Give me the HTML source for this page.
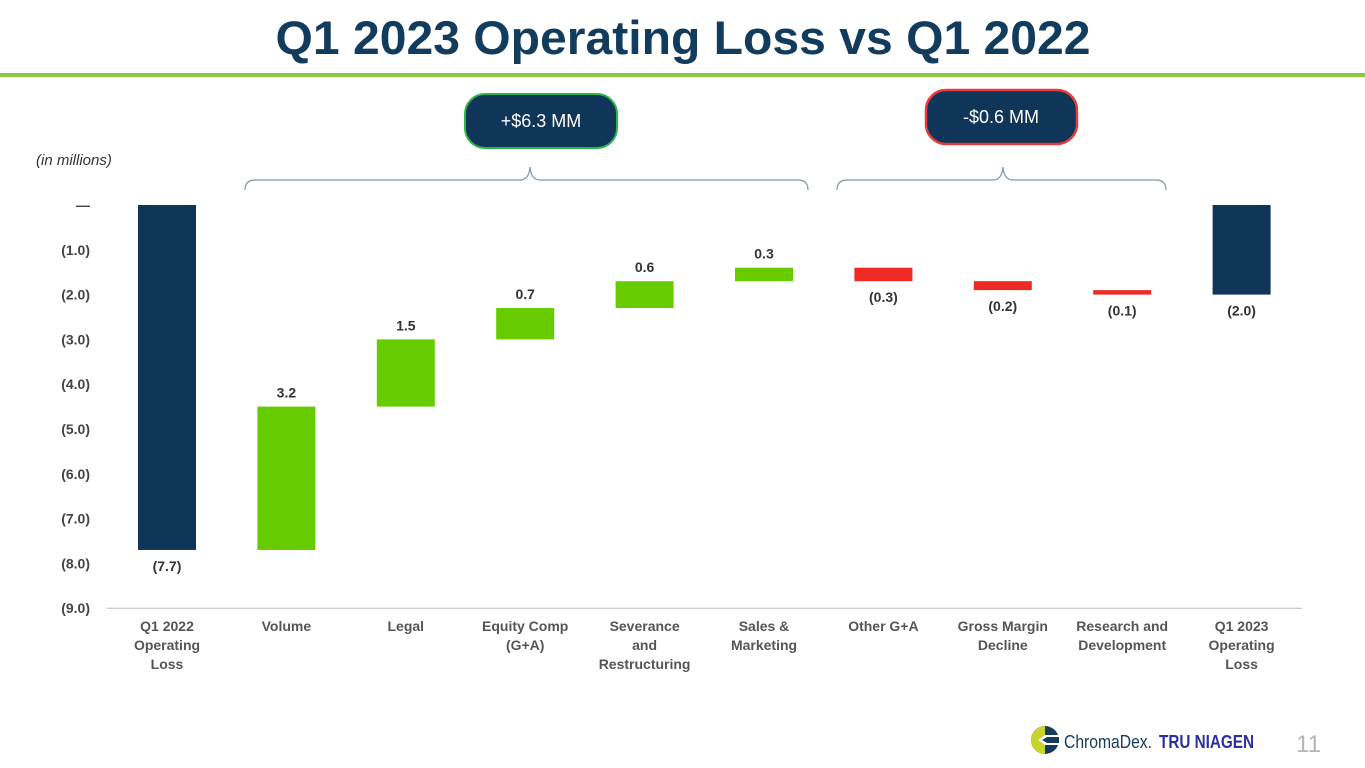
<!DOCTYPE html>
<html><head><meta charset="utf-8"><style>
body{margin:0;width:1365px;height:768px;background:#fff;overflow:hidden;font-family:"Liberation Sans",sans-serif;}
svg{position:absolute;left:0;top:0}
</style></head><body>
<svg id="c" width="1365" height="768">
<text x="683" y="54" text-anchor="middle" font-size="47" font-weight="bold" fill="#123c5e" textLength="815" lengthAdjust="spacingAndGlyphs">Q1 2023 Operating Loss vs Q1 2022</text>
<rect x="0" y="73" width="1365" height="4" fill="#8dc63f"/>
<text x="36" y="165" font-size="15" font-style="italic" fill="#333">(in millions)</text>
<g>
<rect x="465" y="94" width="152" height="54" rx="20" fill="#0f3658" stroke="#2fb34a" stroke-width="2"/>
<text x="541" y="127" text-anchor="middle" font-size="18" fill="#fff">+$6.3 MM</text></g>
<g>
<rect x="926" y="90" width="151" height="54" rx="20" fill="#0f3658" stroke="#e83a3a" stroke-width="2.5"/>
<text x="1001" y="123" text-anchor="middle" font-size="18" fill="#fff">-$0.6 MM</text></g>
<path d="M245 190 Q245 180 255 180 L520 180 Q529 180 530 167 Q531 180 540 180 L798 180 Q808 180 808 190" fill="none" stroke="#7f96aa" stroke-width="1.2"/>
<path d="M837 190 Q837 180 847 180 L993 180 Q1002 180 1003 167 Q1004 180 1013 180 L1156 180 Q1166 180 1166 190" fill="none" stroke="#7f96aa" stroke-width="1.2"/>
<g id="plot"></g>
<g>
<circle cx="1045" cy="740" r="14" fill="#173a5a"/>
<path d="M1031 740 A14 14 0 0 0 1045 754 L1045 745 L1038 740 Z" fill="#c8d42c"/>
<path d="M1031 740 A14 14 0 0 1 1045 726 L1045 735 L1038 740 Z" fill="#c8d42c"/>
<path d="M1038 740 L1045 735 L1059 735 L1059 745 L1045 745 Z" fill="#fff"/>
<path d="M1042 740 L1047 737 L1059 737 L1059 743 L1047 743 Z" fill="#173a5a"/>
<text x="1064" y="748" font-size="18" fill="#173a5a" textLength="88" lengthAdjust="spacingAndGlyphs">ChromaDex.</text>
<text x="1159" y="748" font-size="18" font-weight="bold" fill="#2b2fa0" textLength="95" lengthAdjust="spacingAndGlyphs">TRU NIAGEN</text>
<text x="1296" y="752" font-size="24" fill="#b5b5b5">11</text>
</g>
</svg>
<script>
const categories=["Q1 2022|Operating|Loss","Volume","Legal","Equity Comp|(G+A)","Severance|and|Restructuring","Sales &|Marketing","Other G+A","Gross Margin|Decline","Research and|Development","Q1 2023|Operating|Loss"];
const values=[-7.7,3.2,1.5,0.7,0.6,0.3,-0.3,-0.2,-0.1,-2.0];
const labels=["(7.7)","3.2","1.5","0.7","0.6","0.3","(0.3)","(0.2)","(0.1)","(2.0)"];
const kinds=["total","delta","delta","delta","delta","delta","delta","delta","delta","total"];
const ticks=[0,-1,-2,-3,-4,-5,-6,-7,-8,-9];
const tickLabels=["—","(1.0)","(2.0)","(3.0)","(4.0)","(5.0)","(6.0)","(7.0)","(8.0)","(9.0)"];
const NS="http://www.w3.org/2000/svg";
const g=document.getElementById('plot');
const y=v=>205-v*44.8;
const x=i=>167+i*119.4;
function el(t,a,txt){const e=document.createElementNS(NS,t);for(const k in a)e.setAttribute(k,a[k]);if(txt!==undefined)e.textContent=txt;g.appendChild(e);return e;}
const ax=el('line',{x1:107,x2:1302,y1:y(-9),y2:y(-9),stroke:'#bbb','stroke-width':1});


ticks.forEach((t,i)=>{const e=el('text',{x:90,y:y(t)+5,'text-anchor':'end','font-size':14,'font-weight':'bold',fill:'#444'},tickLabels[i]);

});
let cum=0;
values.forEach((v,i)=>{
 let top,bot,color;
 if(kinds[i]==='total'){top=Math.max(0,v);bot=Math.min(0,v);color='#0f3658';cum=v;}
 else{const n=cum+v;top=Math.max(cum,n);bot=Math.min(cum,n);color=v>=0?'#66cc00':'#ee2a24';cum=n;}
 const r=el('rect',{x:x(i)-29,y:y(top),width:58,height:Math.max(1,y(bot)-y(top)),fill:color});
 
 
 const ly=(v>=0&&kinds[i]==='delta')?y(top)-9:y(bot)+21;
 const l=el('text',{x:x(i),y:ly,'text-anchor':'middle','font-size':14,'font-weight':'bold',fill:'#333'},labels[i]);
 
 
 categories[i].split('|').forEach((s,j)=>{const c=el('text',{x:x(i),y:631+j*19,'text-anchor':'middle','font-size':14,'font-weight':'bold',fill:'#555'},s);
 
 });
});
</script>
</body></html>
